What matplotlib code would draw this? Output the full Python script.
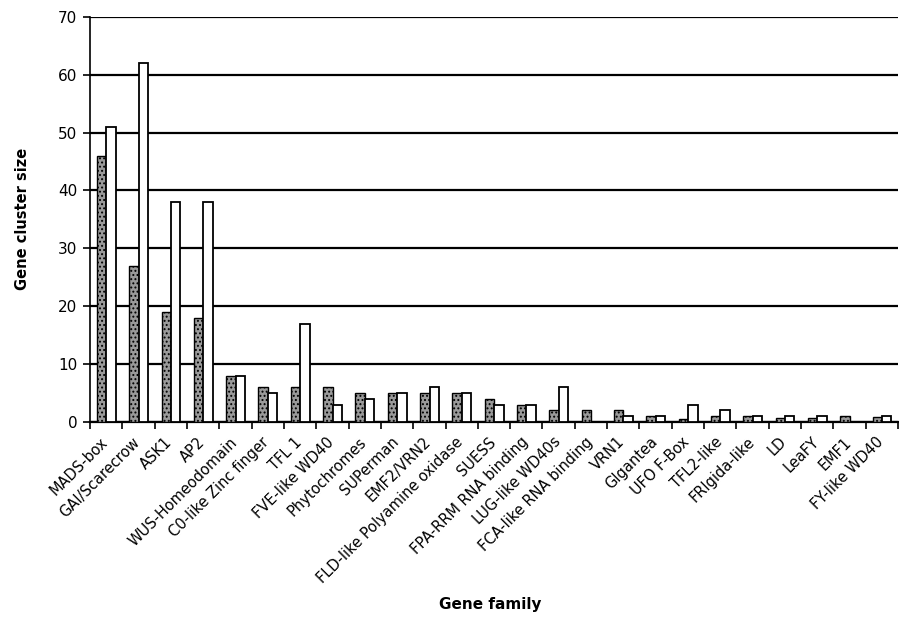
import numpy as np
import matplotlib
matplotlib.use('Agg')
import matplotlib.pyplot as plt
import matplotlib.transforms as mtransforms

families = ['MADS-box', 'GAI/Scarecrow', 'ASK1', 'AP2', 'WUS-Homeodomain',
            'C0-like Zinc finger', 'TFL 1', 'FVE-like WD40', 'Phytochromes',
            'SUPerman', 'EMF2/VRN2', 'FLD-like Polyamine oxidase', 'SUESS',
            'FPA-RRM RNA binding', 'LUG-like WD40s', 'FCA-like RNA binding',
            'VRN1', 'GIgantea', 'UFO F-Box', 'TFL2-like', 'FRIgida-like',
            'LD', 'LeaFY', 'EMF1', 'FY-like WD40']
hatched_vals = [46, 27, 19, 18, 8, 6, 6, 6, 5, 5, 5, 5, 4, 3, 2, 2, 2, 1, 0.5, 1, 1, 0.7, 0.7, 1, 0.8]
white_vals = [51, 62, 38, 38, 8, 5, 17, 3, 4, 5, 6, 5, 3, 3, 6, 0, 1, 1, 3, 2, 1, 1, 1, 0, 1]
yticks = [0, 10, 20, 30, 40, 50, 60, 70]

plt.rcParams['font.family'] = 'DejaVu Sans'
plt.rcParams['hatch.linewidth'] = 0.9

fig = plt.figure(figsize=(8.99, 6.25), dpi=100)
ax = fig.add_axes([0.100, 0.325, 0.899, 0.648])

x = np.arange(len(families))
w = 0.29
ax.bar(x - 0.14, hatched_vals, w, facecolor='#9a9a9a', edgecolor='black',
       hatch='....', linewidth=1.0, zorder=3)
ax.bar(x + 0.15, white_vals, w, facecolor='white', edgecolor='black',
       linewidth=1.3, zorder=3)

ax.set_ylim(0, 70)
ax.set_xlim(-0.5, len(families) - 0.5)
ax.set_yticks(yticks)
ax.yaxis.grid(True, color='black', linewidth=1.6, zorder=0)
ax.set_axisbelow(True)

# category ticks sit on the boundaries, labels on the centres
ax.set_xticks(np.arange(len(families) + 1) - 0.5, minor=True)
ax.set_xticks(x)
ax.set_xticklabels(families, rotation=45, ha='right', rotation_mode='anchor', fontsize=10.5)
ax.tick_params(axis='x', which='major', length=0, pad=9)
ax.tick_params(axis='x', which='minor', length=5, width=1.2, direction='out')
ax.tick_params(axis='y', length=5, width=1.2, labelsize=11, pad=4)

shift = mtransforms.ScaledTranslation(-6 / 100, 0, fig.dpi_scale_trans)
for lab in ax.get_xticklabels():
    lab.set_transform(lab.get_transform() + shift)

for s in ['top', 'right']:
    ax.spines[s].set_visible(False)
ax.spines['left'].set_linewidth(1.2)
ax.spines['bottom'].set_linewidth(1.6)

ax.set_ylabel('Gene cluster size', fontsize=10.5, fontweight='bold', labelpad=20)
fig.text(0.545, 0.025, 'Gene family', fontsize=11, fontweight='bold', ha='center')

plt.savefig('out.png', dpi=100)
